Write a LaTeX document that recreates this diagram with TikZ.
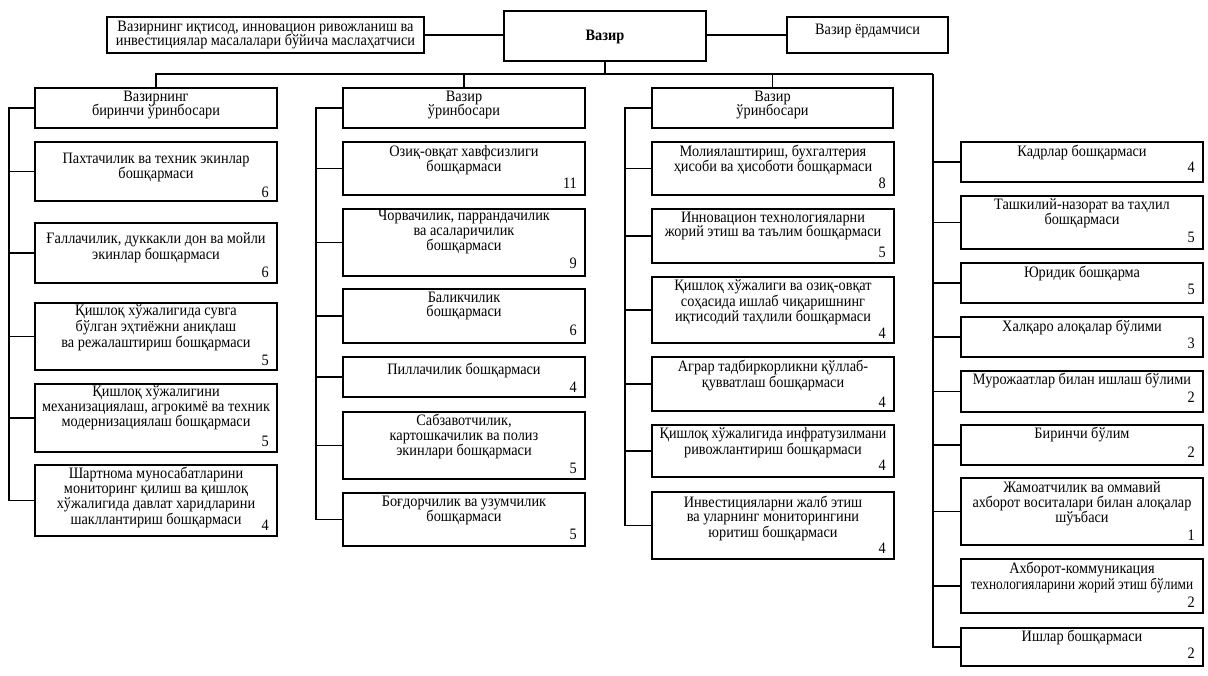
\documentclass[tikz,border=0pt]{standalone}
\usepackage{fontspec}
\usepackage{graphicx}
\setmainfont[FakeStretch=0.9]{Liberation Serif}
\usetikzlibrary{fit}
\tikzset{
  boxs/.style={draw, line width=1.3pt, inner sep=0pt},
  txt/.style={inner sep=0pt, align=center, font=\fontsize{15.9}{14.8}\selectfont},
  num/.style={inner sep=0pt, anchor=east, font=\fontsize{15.9}{14.8}\selectfont},
  con/.style={line width=1.3pt},
}
% name, x1, y1, x2, y2, text y, number y, number, text
\newcommand\obox[9]{%
  \coordinate (#1a) at (#2,#3);
  \coordinate (#1b) at (#4,#5);
  \node[boxs, fit=(#1a)(#1b)] (#1) {};
  \node[txt] (#1t) at ({(#2+#4)/2},#6) {#9};
  \node[num] (#1n) at ({#4-8},#7) {#8};
}
\newcommand\tbox[7]{%
  \coordinate (#1a) at (#2,#3);
  \coordinate (#1b) at (#4,#5);
  \node[boxs, fit=(#1a)(#1b)] (#1) {};
  \node[txt] (#1t) at ({(#2+#4)/2},#6) {#7};
}
\begin{document}
\begin{tikzpicture}[x=1pt,y=-1pt]
\useasboundingbox[fill=white] (0,0) rectangle (1208,675);

% top row
\tbox{vazir}{504}{11}{706}{61}{37}{\textbf{Вазир}}
\tbox{adv}{107}{17}{424}{53}{35}{Вазирнинг иқтисод, инновацион ривожланиш ва\\инвестициялар масалалари бўйича маслаҳатчиси}
\tbox{yord}{787}{17}{948}{53}{31}{Вазир ёрдамчиси}

% deputies
\tbox{dep1}{35}{88}{277}{128}{105}{Вазирнинг\\биринчи ўринбосари}
\tbox{dep2}{343}{88}{585}{128}{105}{Вазир\\ўринбосари}
\tbox{dep3}{652}{88}{893}{128}{105}{Вазир\\ўринбосари}

% column 1
\obox{b11}{35}{142}{277}{201}{167.5}{192}{6}{Пахтачилик ва техник экинлар\\бошқармаси}
\obox{b12}{35}{223}{277}{283}{248}{272}{6}{Ғаллачилик, дуккакли дон ва мойли\\экинлар бошқармаси}
\obox{b13}{35}{303}{277}{370}{327.5}{360}{5}{Қишлоқ хўжалигида сувга\\бўлган эҳтиёжни аниқлаш\\ва режалаштириш бошқармаси}
\obox{b14}{35}{384}{277}{452}{407.5}{441}{5}{Қишлоқ хўжалигини\\механизациялаш, агрокимё ва техник\\модернизациялаш бошқармаси}
\obox{b15}{35}{465}{277}{536}{497.5}{525}{4}{Шартнома муносабатларини\\мониторинг қилиш ва қишлоқ\\хўжалигида давлат харидларини\\шакллантириш бошқармаси}

% column 2
\obox{b21}{343}{142}{585}{195}{160}{183}{11}{Озиқ-овқат хавфсизлиги\\бошқармаси}
\obox{b22}{343}{209}{585}{276}{232}{263}{9}{Чорвачилик, паррандачилик\\ва асаларичилик\\бошқармаси}
\obox{b23}{343}{289}{585}{343}{306}{330}{6}{Баликчилик\\бошқармаси}
\obox{b24}{343}{357}{585}{397}{370}{387}{4}{Пиллачилик бошқармаси}
\obox{b25}{343}{412}{585}{479}{436.5}{468}{5}{Сабзавотчилик,\\картошкачилик ва полиз\\экинлари бошқармаси}
\obox{b26}{343}{493}{585}{546}{510.5}{534}{5}{Боғдорчилик ва узумчилик\\бошқармаси}

% column 3
\obox{b31}{652}{142}{894}{195}{160}{183}{8}{Молиялаштириш, бухгалтерия\\ҳисоби ва ҳисоботи бошқармаси}
\obox{b32}{652}{209}{894}{263}{226}{252}{5}{Инновацион технологияларни\\жорий этиш ва таълим бошқармаси}
\obox{b33}{652}{277}{894}{343}{302}{333}{4}{Қишлоқ хўжалиги ва озиқ-овқат\\соҳасида ишлаб чиқаришнинг\\иқтисодий таҳлили бошқармаси}
\obox{b34}{652}{357}{894}{411}{375.5}{402}{4}{Аграр тадбиркорликни қўллаб-\\қувватлаш бошқармаси}
\obox{b35}{652}{425}{894}{477}{442.5}{465}{4}{\scalebox{0.98}[1]{Қишлоқ хўжалигида инфратузилмани}\\ривожлантириш бошқармаси}
\obox{b36}{652}{492}{894}{559}{518.5}{548}{4}{Инвестицияларни жалб этиш\\ва уларнинг мониторингини\\юритиш бошқармаси}

% column 4
\obox{b41}{961}{142}{1203}{182}{152}{167}{4}{Кадрлар бошқармаси}
\obox{b42}{961}{196}{1203}{249}{213.5}{237}{5}{Ташкилий-назорат ва таҳлил\\бошқармаси}
\obox{b43}{961}{263}{1203}{303}{273}{289}{5}{Юридик бошқарма}
\obox{b44}{961}{317}{1203}{357}{328}{343}{3}{Халқаро алоқалар бўлими}
\obox{b45}{961}{371}{1203}{412}{381}{397}{2}{Мурожаатлар билан ишлаш бўлими}
\obox{b46}{961}{425}{1203}{465}{435}{452}{2}{Биринчи бўлим}
\obox{b47}{961}{478}{1203}{545}{503.5}{535}{1}{Жамоатчилик ва оммавий\\ахборот воситалари билан алоқалар\\шўъбаси}
\obox{b48}{961}{559}{1203}{613}{577.5}{602}{2}{Ахборот-коммуникация\\\scalebox{0.93}[1]{технологияларини жорий этиш бўлими}}
\obox{b49}{961}{628}{1203}{666}{637}{653}{2}{Ишлар бошқармаси}

% top connectors
\draw[con] (adv.east) -- (adv.east -| vazir.west);
\draw[con] (yord.west -| vazir.east) -- (yord.west);
\coordinate (busL) at (155,74);
\coordinate (busR) at (933,74);
\draw[con] (vazir.south) -- (vazir.south |- busL);
\draw[con] (busL) -- (busR);
\draw[con] (dep1.north) -- (dep1.north |- busL);
\draw[con] (dep2.north) -- (dep2.north |- busL);
\draw[con] (dep3.north) -- (dep3.north |- busL);

% column buses
\coordinate (c1) at (9,108);
\coordinate (c2) at (316,108);
\coordinate (c3) at (625,108);
\draw[con] (dep1.west) -- (dep1.west -| c1) -- (c1 |- b15.west) -- (b15.west);
\foreach \b in {b11,b12,b13,b14} \draw[con] (c1 |- \b.west) -- (\b.west);
\draw[con] (dep2.west) -- (dep2.west -| c2) -- (c2 |- b26.west) -- (b26.west);
\foreach \b in {b21,b22,b23,b24,b25} \draw[con] (c2 |- \b.west) -- (\b.west);
\draw[con] (dep3.west) -- (dep3.west -| c3) -- (c3 |- b36.west) -- (b36.west);
\foreach \b in {b31,b32,b33,b34,b35} \draw[con] (c3 |- \b.west) -- (\b.west);
\draw[con] (busR) -- (busR |- b49.west) -- (b49.west);
\foreach \b in {b41,b42,b43,b44,b45,b46,b47,b48} \draw[con] (busR |- \b.west) -- (\b.west);
\end{tikzpicture}
\end{document}
